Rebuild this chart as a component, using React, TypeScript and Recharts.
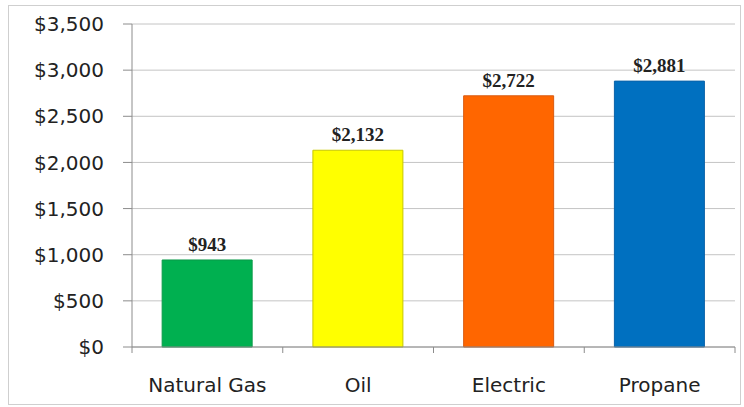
import { BarChart, Bar, XAxis, YAxis, CartesianGrid, Cell, LabelList } from "recharts";

const fuels = ["Natural Gas", "Oil", "Electric", "Propane"];
const costs = [943, 2132, 2722, 2881];
const yTicks = [0, 500, 1000, 1500, 2000, 2500, 3000, 3500];

const barColors = ["#00b050", "#ffff00", "#ff6600", "#0070c0"];
const barStrokes = ["#0a9a48", "#c8c800", "#d95a10", "#0a62a8"];

const data = fuels.map((fuel, i) => ({ fuel, cost: costs[i] }));

const money = (v: number) => "$" + v.toLocaleString("en-US");

const AXIS_TOP = 347;

// category label plus the small marks Excel puts between categories
function FuelTick(props: any) {
  const { x, y, payload, index } = props;
  const half = payload.offset ?? 0;
  return (
    <g>
      {index === 0 && <line x1={x - half} x2={x - half} y1={AXIS_TOP} y2={AXIS_TOP + 6} stroke="#8c8c8c" />}
      <line x1={x + half} x2={x + half} y1={AXIS_TOP} y2={AXIS_TOP + 6} stroke="#8c8c8c" />
      <text x={x} y={y} dy="0.71em" textAnchor="middle" fill="#222" fontSize={20} fontFamily="DejaVu Sans">
        {payload.value}
      </text>
    </g>
  );
}

export default function App() {
  return (
    <div style={{ position: "absolute", left: 0, top: 0, width: 744, height: 407, background: "#fff" }}>
      <div
        style={{
          position: "absolute",
          left: 8,
          top: 5,
          width: 731,
          height: 398,
          border: "1px solid #cfcfcf",
        }}
      />
      <BarChart
        width={744}
        height={407}
        data={data}
        margin={{ top: 24, right: 9, bottom: 20, left: 0 }}
        barCategoryGap="20%"
      >
        <CartesianGrid vertical={false} stroke="#c4c4c4" />
        <XAxis
          dataKey="fuel"
          height={40}
          axisLine={{ stroke: "#8c8c8c" }}
          tickLine={false}
          tickSize={12}
          tickMargin={19}
          tick={<FuelTick />}
        />
        <YAxis
          width={132}
          domain={[0, 3500]}
          ticks={yTicks}
          tickFormatter={money}
          axisLine={{ stroke: "#8c8c8c" }}
          tickLine={{ stroke: "#8c8c8c" }}
          tickSize={9}
          tickMargin={19}
          tick={{ fill: "#222", fontSize: 20, fontFamily: "DejaVu Sans" }}
        />
        <Bar dataKey="cost" isAnimationActive={false}>
          {data.map((d, i) => (
            <Cell key={d.fuel} fill={barColors[i]} stroke={barStrokes[i]} strokeWidth={1} />
          ))}
          <LabelList
            dataKey="cost"
            position="top"
            offset={9}
            formatter={(v: any) => money(Number(v))}
            style={{ fill: "#222", fontSize: 19, fontWeight: "bold", fontFamily: "Liberation Serif" }}
          />
        </Bar>
      </BarChart>
    </div>
  );
}
